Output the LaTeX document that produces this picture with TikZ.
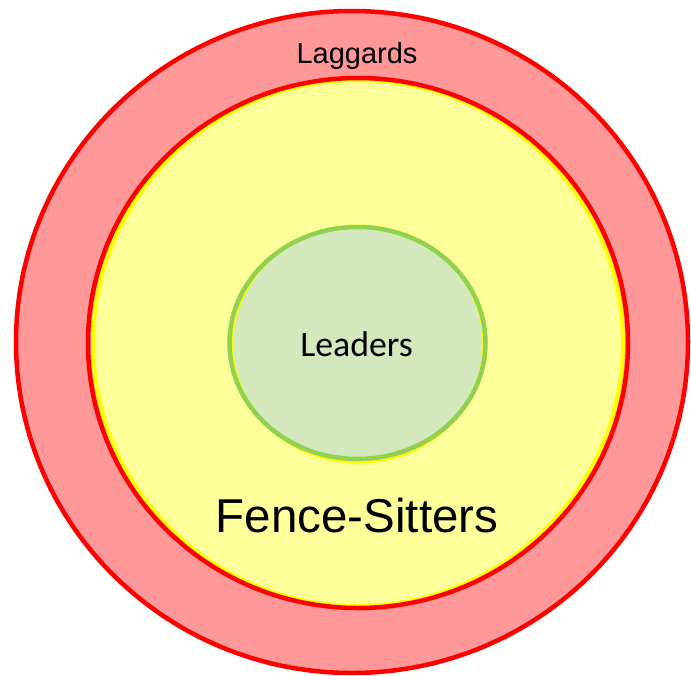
\documentclass[tikz,border=0pt]{standalone}
\usepackage{fontspec}
\setmainfont{Liberation Sans}
\newfontfamily\leadfont{Carlito}
\usepackage{xcolor}
\usepackage{tikz}
\usetikzlibrary{positioning}
\definecolor{ringred}{RGB}{255,0,0}
\definecolor{ringpink}{RGB}{255,153,153}
\definecolor{fenceyellow}{RGB}{255,255,153}
\definecolor{edgeyellow}{RGB}{255,255,0}
\definecolor{leadgreen}{RGB}{211,233,189}
\definecolor{edgegreen}{RGB}{146,208,80}

\begin{document}
\begin{tikzpicture}[
    x=1pt, y=-1pt,
    ring/.style={draw=ringred, line width=4.5pt},
    lbl/.style={anchor=base, inner sep=0pt, text=black}
]
    \useasboundingbox (0,0) rectangle (691,675);

    % Laggards ring
    \draw [ring, fill=ringpink] (352,342) ellipse [x radius=336, y radius=331];
    % Fence-Sitters disc
    \draw [draw=edgeyellow, line width=4pt, fill=fenceyellow] (358,343) ellipse [x radius=265, y radius=263];
    \draw [ring] (358,343) ellipse [x radius=270, y radius=265];
    % Leaders disc
    \draw [draw=edgeyellow, line width=3pt, fill=leadgreen] (358,344) ellipse [x radius=126, y radius=118];
    \draw [draw=edgegreen, line width=4.5pt] (357.5,343) ellipse [x radius=128, y radius=116];

    % Labels
    \node [lbl, font=\fontsize{29}{34}\selectfont] (laggards) at (357,63) {Laggards};
    \node [lbl, font=\fontsize{47.5}{56}\selectfont] (fence) at (357,532) {Fence-Sitters};
    \node [lbl, font=\leadfont\fontsize{35.8}{42}\selectfont] (leaders) at (356.5,356) {Leaders};
\end{tikzpicture}
\end{document}
